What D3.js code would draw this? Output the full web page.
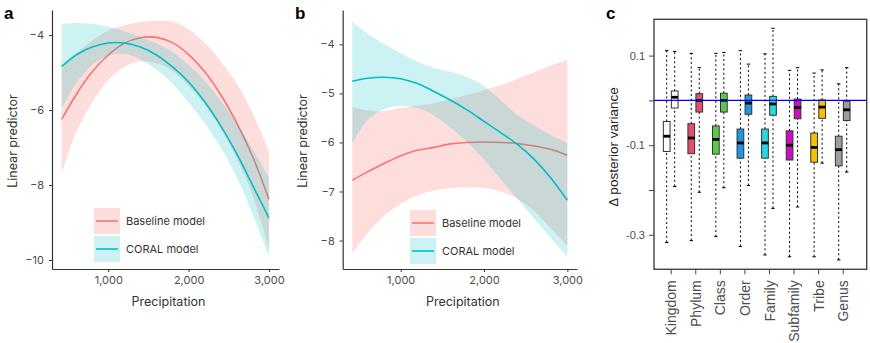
<!DOCTYPE html>
<html>
<head>
<meta charset="utf-8">
<script src="https://cdn.jsdelivr.net/npm/d3@7"></script>
<style>
  body { margin: 0; background: #fff; }
  svg { display: block; }
  .tick text { fill: #4d4d4d; }
</style>
</head>
<body>
<div id="chart"></div>
<script>
// precipitation grid the fitted curves were read at
var precip = [420, 600, 800, 1000, 1200, 1400, 1600, 1800, 2000, 2200, 2400, 2600, 2800, 3000];

// panel a
var aBaseFit  = [-6.25, -5.59, -4.98, -4.53, -4.22, -4.07, -4.06, -4.2, -4.52, -4.98, -5.59, -6.35, -7.26, -8.38];
var aBaseLo   = [-7.7, -6.6, -5.8, -5.2, -4.85, -4.7, -4.75, -4.95, -5.35, -5.85, -6.5, -7.3, -8.3, -9.7];
var aBaseHi   = [-4.9, -4.5, -4.15, -3.88, -3.74, -3.65, -3.62, -3.64, -3.85, -4.2, -4.7, -5.3, -6.1, -7.1];
var aCoralFit = [-4.84, -4.53, -4.32, -4.21, -4.21, -4.32, -4.53, -4.85, -5.25, -5.78, -6.42, -7.17, -8.02, -8.88];
var aCoralLo  = [-5.96, -5.3, -4.8, -4.55, -4.5, -4.65, -4.92, -5.3, -5.8, -6.35, -7.0, -7.8, -8.8, -9.9];
var aCoralHi  = [-3.71, -3.68, -3.7, -3.78, -3.9, -4.05, -4.22, -4.45, -4.8, -5.22, -5.75, -6.35, -7.05, -7.8];

// panel b
var bBaseFit  = [-6.77, -6.6, -6.43, -6.27, -6.16, -6.1, -6.03, -6.0, -5.99, -6.0, -6.02, -6.07, -6.14, -6.26];
var bBaseLo   = [-8.27, -7.85, -7.5, -7.25, -7.08, -6.98, -6.93, -6.92, -6.93, -7.0, -7.15, -7.4, -7.75, -8.1];
var bBaseHi   = [-5.27, -5.35, -5.36, -5.3, -5.25, -5.2, -5.12, -5.03, -4.93, -4.83, -4.7, -4.57, -4.43, -4.32];
var bCoralFit = [-4.75, -4.69, -4.67, -4.7, -4.8, -4.96, -5.14, -5.34, -5.57, -5.8, -6.04, -6.34, -6.72, -7.18];
var bCoralLo  = [-6.02, -5.55, -5.32, -5.25, -5.3, -5.45, -5.7, -6.0, -6.35, -6.75, -7.15, -7.55, -7.95, -8.33];
var bCoralHi  = [-3.54, -3.78, -4.0, -4.18, -4.35, -4.48, -4.56, -4.67, -4.85, -5.14, -5.44, -5.65, -5.85, -6.01];

var precipTicks = [1000, 2000, 3000];
var aTicks = [-4, -6, -8, -10];
var bTicks = [-4, -5, -6, -7, -8];
var seriesNames = ["Baseline model", "CORAL model"];
var seriesColors = ["#F8766D", "#00BFC4"];

// panel c: [lower whisker, q1, median, q3, upper whisker]
var levels = ["Kingdom", "Phylum", "Class", "Order", "Family", "Subfamily", "Tribe", "Genus"];
var levelColors = ["#ffffff", "#E0506A", "#5DC94B", "#2196E0", "#2AD8DF", "#CC10C0", "#F5C100", "#9C9C9C"];
var leftBoxes = [
  [-0.317, -0.114, -0.080, -0.047, 0.111],
  [-0.313, -0.119, -0.084, -0.052, 0.105],
  [-0.304, -0.120, -0.087, -0.057, 0.105],
  [-0.326, -0.129, -0.095, -0.064, 0.111],
  [-0.345, -0.129, -0.095, -0.064, 0.104],
  [-0.349, -0.133, -0.100, -0.068, 0.067],
  [-0.349, -0.138, -0.105, -0.073, 0.061],
  [-0.356, -0.146, -0.110, -0.080, 0.037]
];
var rightBoxes = [
  [-0.192, -0.017, 0.007, 0.021, 0.109],
  [-0.205, -0.026, 0.000, 0.015, 0.073],
  [-0.195, -0.026, 0.000, 0.016, 0.107],
  [-0.190, -0.031, -0.006, 0.012, 0.081],
  [-0.241, -0.033, -0.008, 0.009, 0.161],
  [-0.238, -0.041, -0.016, 0.003, 0.073],
  [-0.140, -0.040, -0.015, 0.001, 0.068],
  [-0.160, -0.045, -0.021, -0.002, 0.073]
];
var cTicks = [0.1, 0, -0.1, -0.2, -0.3];
var cTickLabels = [0.1, -0.1, -0.3];

var W = 870, H = 343;
var font = "Inter, 'Noto Sans', sans-serif";
var rfont = "'Liberation Sans', Arial, sans-serif";

var svg = d3.select("#chart").append("svg")
    .attr("width", W)
    .attr("height", H);

function linePanel(opts) {
  var x = d3.scaleLinear().domain(opts.xDomain).range(opts.xRange);
  var y = d3.scaleLinear().domain(opts.yDomain).range([269, 10]);
  var g = svg.append("g");

  var area = function(lo, hi) {
    return d3.area()
      .x(function(d, i) { return x(precip[i]); })
      .y0(function(d, i) { return y(lo[i]); })
      .y1(function(d, i) { return y(hi[i]); })
      .curve(d3.curveCatmullRom)(precip);
  };
  var line = function(fit) {
    return d3.line()
      .x(function(d, i) { return x(precip[i]); })
      .y(function(d, i) { return y(fit[i]); })
      .curve(d3.curveCatmullRom)(precip);
  };

  // ribbons and fits: baseline first, CORAL on top
  g.append("path").attr("d", area(opts.baseLo, opts.baseHi))
    .attr("fill", seriesColors[0]).attr("fill-opacity", 0.24);
  g.append("path").attr("d", line(opts.baseFit))
    .attr("fill", "none").attr("stroke", seriesColors[0]).attr("stroke-width", 1.6);
  g.append("path").attr("d", area(opts.coralLo, opts.coralHi))
    .attr("fill", seriesColors[1]).attr("fill-opacity", 0.2);
  g.append("path").attr("d", line(opts.coralFit))
    .attr("fill", "none").attr("stroke", seriesColors[1]).attr("stroke-width", 1.6);

  var xAxis = g.append("g")
      .attr("transform", "translate(0,269)")
      .call(d3.axisBottom(x).tickValues(precipTicks).tickSize(3).tickSizeOuter(0).tickPadding(4).tickFormat(d3.format(",")));
  var yAxis = g.append("g")
      .attr("transform", "translate(" + opts.xRange[0] + ",0)")
      .call(d3.axisLeft(y).tickValues(opts.yTicks).tickSize(3).tickSizeOuter(0).tickPadding(5).tickFormat(d3.format("d")));
  [xAxis, yAxis].forEach(function(a) {
    a.selectAll("text").style("font-family", font).style("font-size", "11px");
    a.selectAll("line").attr("stroke", "#333");
    a.select(".domain").attr("stroke", "#333").attr("stroke-width", 1.2);
  });

  g.append("text")
    .attr("x", (opts.xRange[0] + opts.xRange[1]) / 2 + 3)
    .attr("y", 306)
    .attr("text-anchor", "middle")
    .style("font-family", font).style("font-size", "12.5px").attr("fill", "#333")
    .text("Precipitation");
  g.append("text")
    .attr("transform", "translate(" + opts.yLabelX + ",141) rotate(-90)")
    .attr("text-anchor", "middle")
    .style("font-family", font).style("font-size", "12.5px").attr("fill", "#333")
    .text("Linear predictor");
  g.append("text")
    .attr("x", opts.tagX).attr("y", 19)
    .style("font-family", rfont).style("font-size", "17px").style("font-weight", "bold")
    .text(opts.tag);

  // legend
  var leg = g.selectAll(".key").data(seriesNames).enter().append("g")
      .attr("transform", function(d, i) { return "translate(" + opts.legX + "," + (opts.legY + i * 28) + ")"; });
  leg.append("rect")
    .attr("width", 26).attr("height", 26)
    .attr("fill", function(d, i) { return seriesColors[i]; })
    .attr("fill-opacity", function(d, i) { return i ? 0.2 : 0.24; });
  leg.append("line")
    .attr("x1", 2).attr("x2", 24).attr("y1", 13).attr("y2", 13)
    .attr("stroke", function(d, i) { return seriesColors[i]; }).attr("stroke-width", 1.6);
  leg.append("text")
    .attr("x", 32).attr("y", 17)
    .style("font-family", font).style("font-size", "11px").attr("fill", "#333")
    .text(function(d) { return d; });
}

linePanel({
  tag: "a", tagX: 4, yLabelX: 17,
  xDomain: [300, 3125], xRange: [52, 279],
  yDomain: [-10.24, -3.33], yTicks: aTicks,
  baseFit: aBaseFit, baseLo: aBaseLo, baseHi: aBaseHi,
  coralFit: aCoralFit, coralLo: aCoralLo, coralHi: aCoralHi,
  legX: 94, legY: 208
});

linePanel({
  tag: "b", tagX: 295, yLabelX: 307,
  xDomain: [304, 3116], xRange: [342.7, 577],
  yDomain: [-8.58, -3.3], yTicks: bTicks,
  baseFit: bBaseFit, baseLo: bBaseLo, baseHi: bBaseHi,
  coralFit: bCoralFit, coralLo: bCoralLo, coralHi: bCoralHi,
  legX: 410, legY: 210
});

// ---- panel c: boxplots ----
var cx = d3.scalePoint().domain(levels).range([670.7, 842.7]);
var cy = d3.scaleLinear().domain([-0.377, 0.181]).range([269.3, 19.3]);
var gc = svg.append("g");
var left = 654, right = 866.7, boxW = 6.7, off = 4;

gc.append("rect")
  .attr("x", left).attr("y", cy(0.181))
  .attr("width", right - left).attr("height", cy(-0.377) - cy(0.181))
  .attr("fill", "none").attr("stroke", "#444").attr("stroke-width", 1.4);

var yc = gc.append("g")
    .attr("transform", "translate(" + left + ",0)")
    .call(d3.axisLeft(cy).tickValues(cTicks).tickSize(5).tickSizeOuter(0).tickPadding(4)
      .tickFormat(function(d) { return cTickLabels.indexOf(d) >= 0 ? d3.format(".1f")(d).replace("−", "-") : ""; }));
yc.select(".domain").remove();
yc.selectAll("line").attr("stroke", "#444");
yc.selectAll("text").style("font-family", rfont).style("font-size", "11px").attr("fill", "#333");

var xc = gc.append("g")
    .attr("transform", "translate(0," + cy(-0.377) + ")")
    .call(d3.axisBottom(cx).tickSize(5).tickSizeOuter(0).tickPadding(3));
xc.select(".domain").remove();
xc.selectAll("line").attr("stroke", "#444");
xc.selectAll("text")
  .style("font-family", rfont).style("font-size", "14px").attr("fill", "#222")
  .attr("text-anchor", "end")
  .attr("transform", "rotate(-90)")
  .attr("x", -11).attr("y", 0).attr("dy", "0.36em");

function drawBoxes(stats, shift) {
  var b = gc.selectAll(null).data(stats).enter().append("g")
      .attr("transform", function(d, i) { return "translate(" + (cx(levels[i]) + shift) + ",0)"; });
  b.append("line")
    .attr("y1", function(d) { return cy(d[0]); }).attr("y2", function(d) { return cy(d[1]); })
    .attr("stroke", "#000").attr("stroke-width", 1).attr("stroke-dasharray", "2,2.6");
  b.append("line")
    .attr("y1", function(d) { return cy(d[3]); }).attr("y2", function(d) { return cy(d[4]); })
    .attr("stroke", "#000").attr("stroke-width", 1).attr("stroke-dasharray", "2,2.6");
  [0, 4].forEach(function(k) {
    b.append("line")
      .attr("x1", -1.7).attr("x2", 1.7)
      .attr("y1", function(d) { return cy(d[k]); }).attr("y2", function(d) { return cy(d[k]); })
      .attr("stroke", "#000").attr("stroke-width", 1);
  });
  b.append("rect")
    .attr("x", -boxW / 2).attr("width", boxW)
    .attr("y", function(d) { return cy(d[3]); })
    .attr("height", function(d) { return cy(d[1]) - cy(d[3]); })
    .attr("fill", function(d, i) { return levelColors[i]; })
    .attr("stroke", "#333").attr("stroke-width", 1);
  b.append("line")
    .attr("x1", -boxW / 2).attr("x2", boxW / 2)
    .attr("y1", function(d) { return cy(d[2]); }).attr("y2", function(d) { return cy(d[2]); })
    .attr("stroke", "#000").attr("stroke-width", 2.8);
}
drawBoxes(leftBoxes, -off);
drawBoxes(rightBoxes, off);

gc.append("line")
  .attr("x1", left).attr("x2", right)
  .attr("y1", cy(0)).attr("y2", cy(0))
  .attr("stroke", "#0000ff").attr("stroke-width", 1.4);

gc.append("text")
  .attr("transform", "translate(618,147) rotate(-90)")
  .attr("text-anchor", "middle")
  .style("font-family", rfont).style("font-size", "13.5px").attr("fill", "#222")
  .text("Δ posterior variance");
gc.append("text")
  .attr("x", 606).attr("y", 19)
  .style("font-family", rfont).style("font-size", "17px").style("font-weight", "bold")
  .text("c");
</script>
</body>
</html>
